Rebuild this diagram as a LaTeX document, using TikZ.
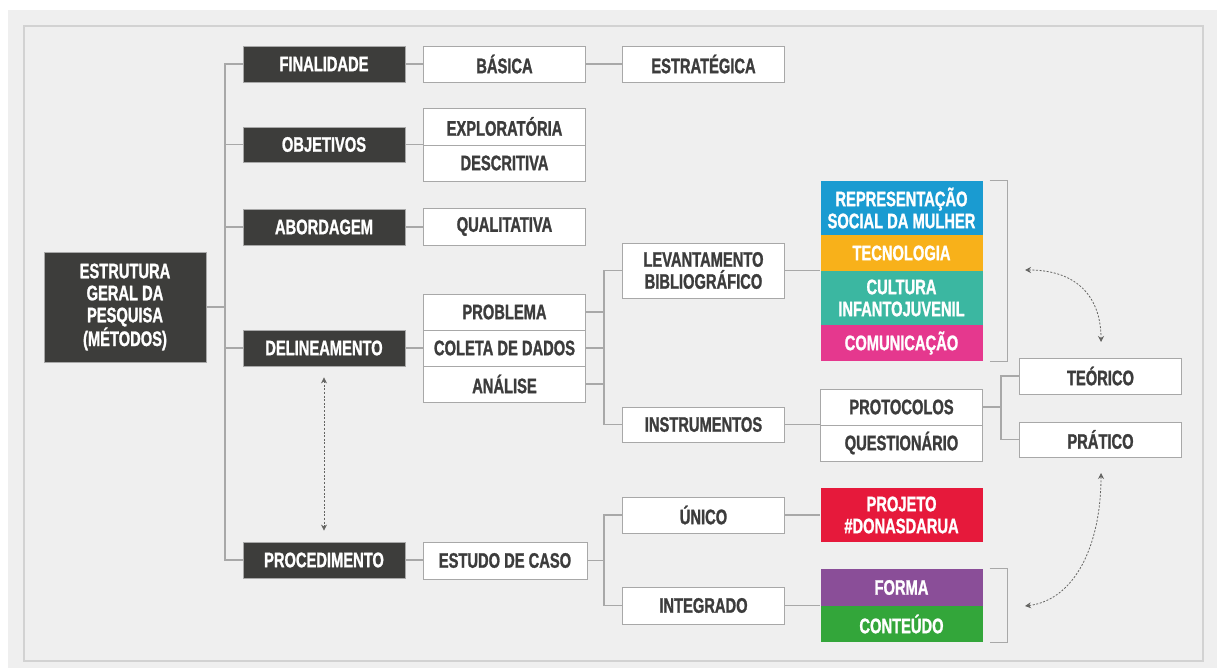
\documentclass[tikz,border=0pt]{standalone}
\usepackage{fontspec}
\newfontfamily\boxfont{Liberation Sans Bold}[FakeStretch=0.7, FakeBold=1.2]
\usetikzlibrary{arrows.meta,calc}
\definecolor{bgc}{HTML}{EFEFEF}
\definecolor{framec}{HTML}{D2D2D2}
\definecolor{linec}{HTML}{A8A8A8}
\definecolor{darkc}{HTML}{3D3D3B}
\definecolor{txtc}{HTML}{3C3C3C}
\definecolor{bluec}{HTML}{1A9BD1}
\definecolor{yellowc}{HTML}{F8B11A}
\definecolor{tealc}{HTML}{3BB7A1}
\definecolor{pinkc}{HTML}{E5388E}
\definecolor{redc}{HTML}{E6193B}
\definecolor{purplec}{HTML}{8A4E98}
\definecolor{greenc}{HTML}{33A63A}
\tikzset{
  basebox/.style={rectangle, inner sep=0pt, minimum width=162pt, minimum height=36pt, align=center,
    font=\boxfont\fontsize{21}{22}\selectfont},
  darkbox/.style={basebox, fill=darkc, draw=linec, line width=0.8pt, text=white},
  whitebox/.style={basebox, fill=white, draw=linec, line width=0.9pt, text=txtc},
  colbox/.style={basebox, fill=#1, text=white},
  conn/.style={draw=linec, line width=1.1pt},
  dotarrow/.style={draw=darkc!80, line width=0.8pt, dash pattern=on 2pt off 1.6pt,
    {Stealth[length=6pt,width=6pt]}-{Stealth[length=6pt,width=6pt]}},
}
\begin{document}
\begin{tikzpicture}[x=1pt,y=-1pt]
\useasboundingbox (0,0) rectangle (1217,668);
\fill[white] (0,0) rectangle (1217,668);
\fill[bgc] (8,10) rectangle (1217,668);
\draw[framec, line width=1.5pt] (24,26) rectangle (1203,661);

% column 1
\node[darkbox, minimum height=110pt] (est) at (125,307) {ESTRUTURA\\GERAL DA\\PESQUISA\\(MÉTODOS)};
\node[darkbox] (fin) at (324,64) {FINALIDADE};
\node[darkbox, minimum height=35pt] (obj) at (324,144.5) {OBJETIVOS};
\node[darkbox] (abo) at (324,227) {ABORDAGEM};
\node[darkbox] (del) at (324,348) {DELINEAMENTO};
\node[darkbox] (pro) at (324,560) {PROCEDIMENTO};

% column 2
\node[whitebox] (bas) at (504.5,64) {BÁSICA};
\node[whitebox, minimum height=37pt] (expl) at (504.5,126.5) {EXPLORATÓRIA};
\node[whitebox] (desc) at (504.5,163) {DESCRITIVA};
\node[whitebox, minimum height=37pt] (qual) at (504.5,226.5) {QUALITATIVA};
\node[whitebox] (prob) at (504.5,312) {PROBLEMA};
\node[whitebox] (col) at (504.5,348) {COLETA DE DADOS};
\node[whitebox] (ana) at (504.5,384) {ANÁLISE};
\node[whitebox, minimum width=164pt, minimum height=37pt] (caso) at (505,560.5) {ESTUDO DE CASO};

% column 3
\node[whitebox] (estr) at (703.5,64) {ESTRATÉGICA};
\node[whitebox, minimum height=55pt] (lev) at (703.5,270.5) {LEVANTAMENTO\\BIBLIOGRÁFICO};
\node[whitebox, minimum height=35pt] (ins) at (703.5,424.5) {INSTRUMENTOS};
\node[whitebox] (uni) at (703.5,515) {ÚNICO};
\node[whitebox, minimum height=37pt] (int) at (703.5,605.5) {INTEGRADO};

% column 4
\node[colbox=bluec, minimum height=54pt] (rep) at (901.5,208) {REPRESENTAÇÃO\\SOCIAL DA MULHER};
\node[colbox=yellowc] (tec) at (901.5,253) {TECNOLOGIA};
\node[colbox=tealc, minimum height=54pt] (cul) at (901.5,298) {CULTURA\\INFANTOJUVENIL};
\node[colbox=pinkc] (com) at (901.5,343) {COMUNICAÇÃO};
\node[whitebox] (prot) at (901.5,407) {PROTOCOLOS};
\node[whitebox] (ques) at (901.5,443) {QUESTIONÁRIO};
\node[colbox=redc, minimum height=54pt] (proj) at (901.5,515) {PROJETO\\\#DONASDARUA};
\node[colbox=purplec, minimum height=37pt] (forma) at (901.5,587.5) {FORMA};
\node[colbox=greenc] (cont) at (901.5,624) {CONTEÚDO};

% column 5
\node[whitebox] (teo) at (1100.5,376) {TEÓRICO};
\node[whitebox, minimum height=35pt] (pra) at (1100.5,439.5) {PRÁTICO};

% junction coordinates
\coordinate (tx) at (225,0);
\coordinate (bx) at (604,0);
\coordinate (px) at (1001,0);

% trunk
\draw[conn] (fin.west) -- (fin.west -| tx) -- (pro.west -| tx) -- (pro.west);
\draw[conn] (obj.west) -- (obj.west -| tx);
\draw[conn] (abo.west) -- (abo.west -| tx);
\draw[conn] (del.west) -- (del.west -| tx);
\draw[conn] (est.east) -- (est.east -| tx);

% row links
\draw[conn] (fin.east) -- (bas.west);
\draw[conn] (bas.east) -- (estr.west);
\draw[conn] (obj.east) -- (obj.east -| expl.west);
\draw[conn] (abo.east) -- (abo.east -| qual.west);
\draw[conn] (del.east) -- (col.west);
\draw[conn] (pro.east) -- (pro.east -| caso.west);

% delineamento branch
\draw[conn] (prob.east) -- (prob.east -| bx);
\draw[conn] (col.east) -- (col.east -| bx);
\draw[conn] (ana.east) -- (ana.east -| bx);
\draw[conn] (lev.west) -- (lev.west -| bx) -- (ins.west -| bx) -- (ins.west);
\draw[conn] (lev.east) -- (lev.east -| cul.west);
\draw[conn] (ins.east) -- (ins.east -| prot.west);
\draw[conn] (prot.east) -- (prot.east -| px);
\draw[conn] (teo.west) -- (teo.west -| px) -- (pra.west -| px) -- (pra.west);

% procedimento branch
\draw[conn] (caso.east) -- (caso.east -| bx);
\draw[conn] (uni.west) -- (uni.west -| bx) -- (int.west -| bx) -- (int.west);
\draw[conn] (uni.east) -- (proj.west);
\draw[conn] (int.east) -- (int.east -| forma.west);

% brackets
\draw[conn] ($(rep.north east)+(7,0)$) -- ++(18,0) -- ($(com.south east)+(25,0)$) -- ++(-18,0);
\draw[conn] ($(forma.north east)+(7,0)$) -- ++(18,0) -- ($(cont.south east)+(25,0)$) -- ++(-18,0);

% dashed arrows
\coordinate (a1) at (1025,270);
\coordinate (a2) at (1101,342);
\coordinate (b1) at (1101,473);
\coordinate (b2) at (1025,606);
\draw[dotarrow] (a1) .. controls (1080,270) and (1101,300) .. (a2);
\draw[dotarrow] (b1) .. controls (1101,545) and (1075,600) .. (b2);
\draw[dotarrow] ($(del.south)+(0,11)$) -- ($(pro.north)+(0,-11)$);
\end{tikzpicture}
\end{document}
